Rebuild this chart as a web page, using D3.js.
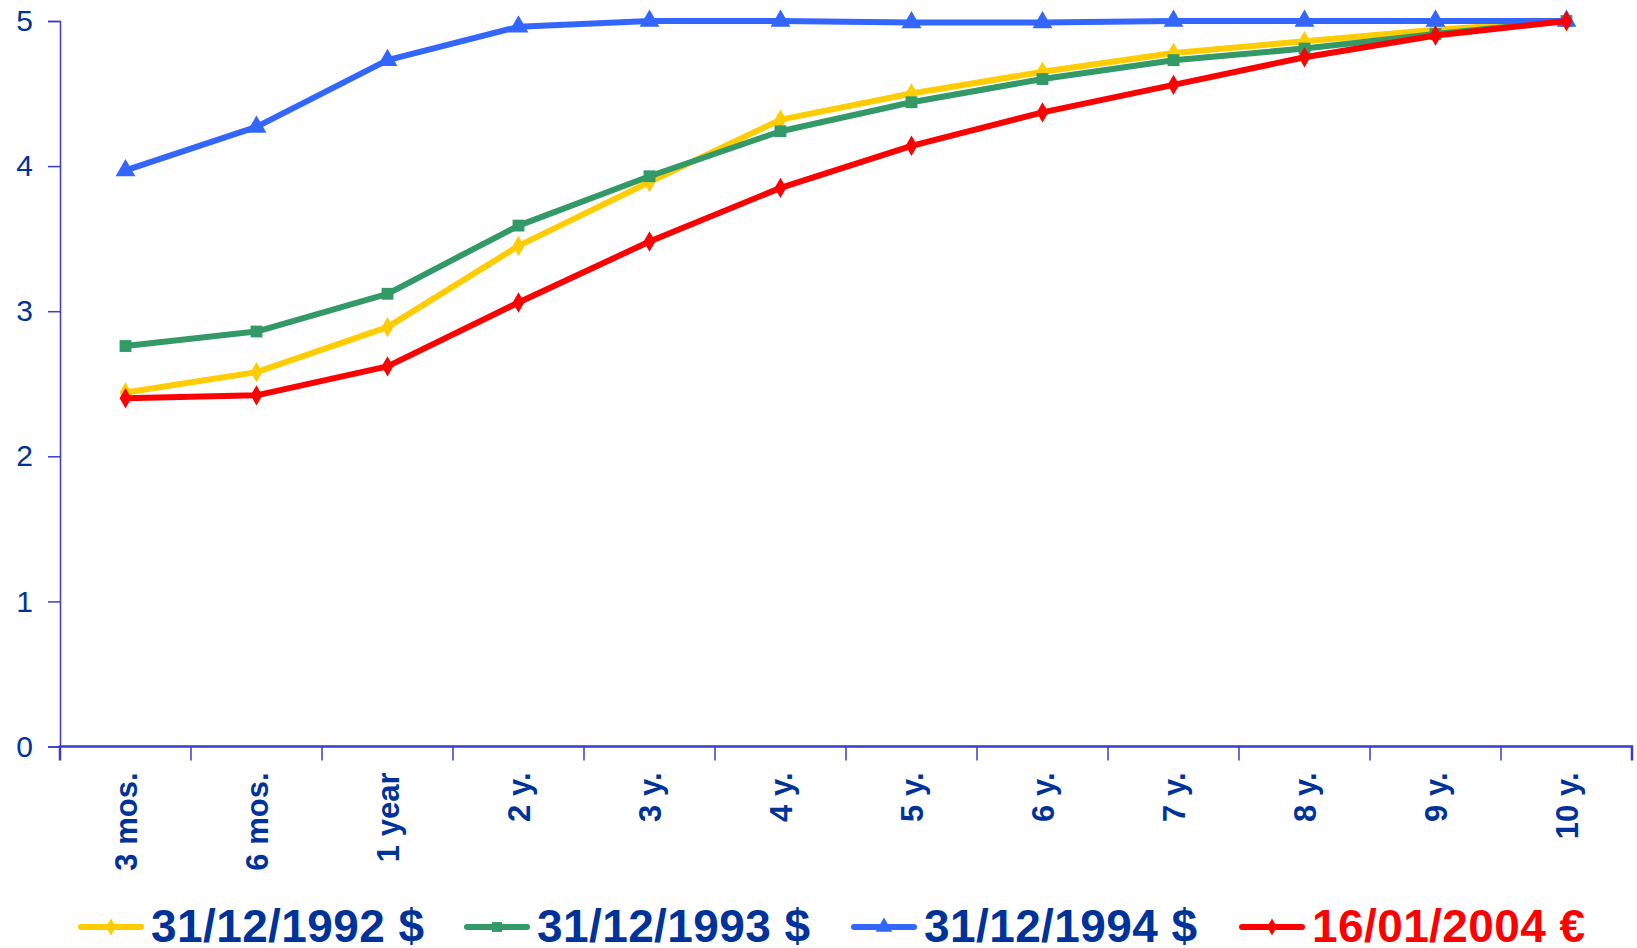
<!DOCTYPE html>
<html>
<head>
<meta charset="utf-8">
<script src="https://cdn.jsdelivr.net/npm/d3@7"></script>
<style>
  html, body { margin: 0; padding: 0; background: #fff; }
  svg { display: block; }
</style>
</head>
<body>
<svg id="chart"></svg>
<script>
// yield curves, categories and values
const maturities = ["3 mos.", "6 mos.", "1 year", "2 y.", "3 y.", "4 y.", "5 y.", "6 y.", "7 y.", "8 y.", "9 y.", "10 y."];
const yTicks = [0, 1, 2, 3, 4, 5];

const curve1992 = [2.44, 2.58, 2.89, 3.45, 3.89, 4.32, 4.50, 4.65, 4.78, 4.86, 4.94, 5.00];
const curve1993 = [2.76, 2.86, 3.12, 3.59, 3.93, 4.24, 4.44, 4.60, 4.73, 4.81, 4.91, 5.00];
const curve1994 = [3.97, 4.27, 4.73, 4.96, 5.00, 5.00, 4.99, 4.99, 5.00, 5.00, 5.00, 5.00];
const curve2004 = [2.40, 2.42, 2.62, 3.06, 3.48, 3.85, 4.14, 4.37, 4.56, 4.75, 4.90, 5.00];

const seriesNames = ["31/12/1992 $", "31/12/1993 $", "31/12/1994 $", "16/01/2004 €"];

// styling for each series (kept apart from the values)
const series = [
  {name: seriesNames[0], values: curve1992, color: "#ffcc00", symbol: d3.symbolDiamond, size: 120, text: "#003399"},
  {name: seriesNames[1], values: curve1993, color: "#339966", symbol: d3.symbolSquare, size: 140, text: "#003399"},
  {name: seriesNames[2], values: curve1994, color: "#3366ff", symbol: d3.symbolTriangle, size: 170, text: "#003399"},
  {name: seriesNames[3], values: curve2004, color: "#ff0000", symbol: d3.symbolDiamond, size: 120, text: "#ff0000"}
];

const width = 1637, height = 948;
const plot = {left: 60, right: 1632, top: 21, bottom: 746.5};
const axisColor = "#3a3acc";
const labelColor = "#003399";

const svg = d3.select("#chart")
    .attr("width", width)
    .attr("height", height)
    .attr("viewBox", `0 0 ${width} ${height}`);

const x = d3.scaleBand()
    .domain(maturities)
    .range([plot.left, plot.right])
    .padding(0);

const y = d3.scaleLinear()
    .domain([0, 5])
    .range([plot.bottom, plot.top]);

const cx = d => x(d) + x.bandwidth() / 2;

/*
** Axes
*/
const yAxis = svg.append("g")
    .attr("transform", `translate(${plot.left},0)`)
    .call(d3.axisLeft(y).tickValues(yTicks).tickSize(12).tickPadding(15).tickFormat(d3.format("d")));

yAxis.select(".domain").attr("stroke", axisColor).attr("stroke-width", 1.5);
yAxis.selectAll(".tick line").attr("stroke", axisColor).attr("stroke-width", 1.5);
yAxis.selectAll(".tick text")
    .attr("fill", labelColor)
    .attr("font-family", "Liberation Sans, Arial, sans-serif")
    .attr("font-size", "30px");

const xAxis = svg.append("g")
    .attr("transform", `translate(0,${plot.bottom})`)
    .call(d3.axisBottom(x).tickSize(14).tickSizeOuter(14));

// boundary ticks sit between categories, so redraw them at band edges
xAxis.selectAll(".tick line").remove();
xAxis.select(".domain").attr("d", `M${plot.left},14V0H${plot.right}V14`)
    .attr("stroke", axisColor).attr("stroke-width", 2.5);

xAxis.selectAll(".edge")
    .data(maturities.slice(1))
    .enter()
        .append("line")
        .attr("class", "edge")
        .attr("x1", d => x(d)).attr("x2", d => x(d))
        .attr("y1", 0).attr("y2", 14)
        .attr("stroke", axisColor)
        .attr("stroke-width", 1.5);

xAxis.selectAll(".tick text")
    .attr("fill", labelColor)
    .attr("font-family", "Liberation Sans, Arial, sans-serif")
    .attr("font-weight", "bold")
    .attr("font-size", "31px")
    .attr("text-anchor", "end")
    .attr("transform", "rotate(-90)")
    .attr("x", -26)
    .attr("y", 0)
    .attr("dy", "0.36em");

/*
** Lines and markers
*/
const line = d3.line()
    .x((d, i) => cx(maturities[i]))
    .y(d => y(d));

const seriesGroup = svg.selectAll(".series")
    .data(series)
    .enter()
        .append("g")
        .attr("class", "series");

seriesGroup.append("path")
    .attr("d", d => line(d.values))
    .attr("fill", "none")
    .attr("stroke", d => d.color)
    .attr("stroke-width", 6)
    .attr("stroke-linejoin", "round");

seriesGroup.selectAll(".marker")
    .data(d => d.values.map((v, i) => ({v, i, s: d})))
    .enter()
        .append("path")
        .attr("class", "marker")
        .attr("transform", d => `translate(${cx(maturities[d.i])},${y(d.v)})`)
        .attr("d", d => d3.symbol().type(d.s.symbol).size(d.s.size)())
        .attr("fill", d => d.s.color);

/*
** Legend
*/
const legendX = [81, 467, 854, 1242];
const legendY = 927;

const legend = svg.selectAll(".legend")
    .data(series)
    .enter()
        .append("g")
        .attr("class", "legend")
        .attr("transform", (d, i) => `translate(${legendX[i]},${legendY})`);

legend.append("line")
    .attr("x1", 0).attr("x2", 60)
    .attr("y1", 0).attr("y2", 0)
    .attr("stroke", d => d.color)
    .attr("stroke-width", 6)
    .attr("stroke-linecap", "round");

legend.append("path")
    .attr("transform", "translate(30,0)")
    .attr("d", d => d3.symbol().type(d.symbol).size(d.size * 0.7)())
    .attr("fill", d => d.color);

legend.append("text")
    .attr("x", 70)
    .attr("y", 15)
    .attr("fill", d => d.text)
    .attr("font-family", "Liberation Sans, Arial, sans-serif")
    .attr("font-weight", "bold")
    .attr("font-size", "46px")
    .attr("letter-spacing", "0.4px")
    .text(d => d.name);
</script>
</body>
</html>
